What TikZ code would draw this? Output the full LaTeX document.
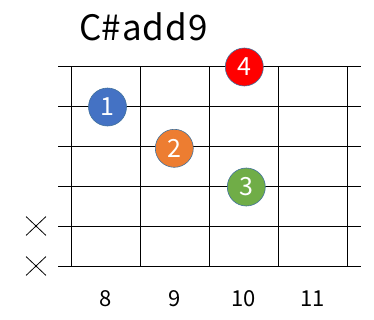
\documentclass[tikz,border=0pt]{standalone}
\usepackage{fontspec}
\setmainfont{Noto Sans CJK JP}
\usepackage{xcolor}
\usetikzlibrary{shapes.misc}

\definecolor{fingblue}{HTML}{4472C4}
\definecolor{fingorange}{HTML}{ED7D31}
\definecolor{finggreen}{HTML}{70AD47}
\definecolor{fingred}{HTML}{FF0000}
\definecolor{fingedge}{HTML}{41719C}

\begin{document}
\begin{tikzpicture}[x=1pt,y=-1pt,
    finger/.style={circle, draw=fingedge, line width=0.6pt, minimum size=38pt, inner sep=0pt, text=white, font=\fontsize{25}{25}\selectfont},
    mute/.style={cross out, draw, line width=0.8pt, minimum width=19pt, minimum height=18pt, inner sep=0pt},
    fretnum/.style={font=\fontsize{22}{22}\selectfont}]
    \useasboundingbox (0,0) rectangle (374,319);

    % title
    \node[font=\fontsize{35}{35}\selectfont] (title) at (143.5,27) {C\#\kern1pt a\kern1pt d\kern1pt d\kern1pt 9};

    % strings and frets
    \foreach \s in {0,...,5}
        \draw[line width=0.9pt] (58,66+40*\s) -- (361,66+40*\s);
    \foreach \f in {0,...,4}
        \draw[line width=0.9pt] (71.3+69*\f,66) -- (71.3+69*\f,266);

    % fret numbers
    \foreach \n [count=\i from 0] in {8,9,10,11}
        \node[fretnum] (fr\n) at (105.5+69*\i,299) {\n};

    % muted strings
    \node[mute] (m5) at (36,226) {};
    \node[mute] (m6) at (36,266) {};

    % fingers
    \node[finger, fill=fingblue] (fing1) at (107.5,107) {1};
    \node[finger, fill=fingorange] (fing2) at (174.3,148.3) {2};
    \node[finger, fill=finggreen] (fing3) at (246.3,187) {3};
    \node[finger, fill=fingred] (fing4) at (244.3,67) {4};
\end{tikzpicture}
\end{document}
